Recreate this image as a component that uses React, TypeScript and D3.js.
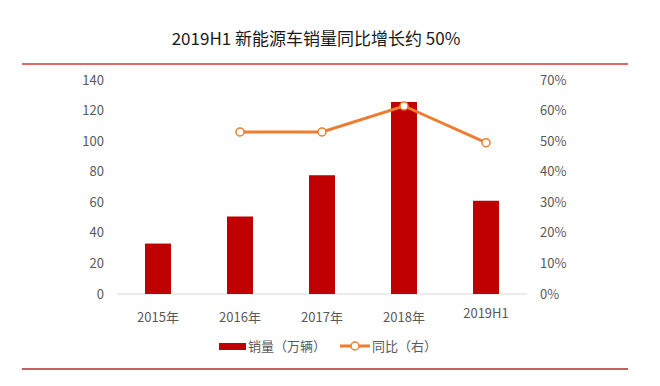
import React, { useRef, useEffect } from 'react';
import * as d3 from 'd3';

const categories = ['2015年', '2016年', '2017年', '2018年', '2019H1'];
const sales = [33, 50.7, 77.7, 125.6, 61];
const yoy: (number | null)[] = [null, 0.53, 0.53, 0.615, 0.495];
const leftTicks = [0, 20, 40, 60, 80, 100, 120, 140];
const rightTicks = [0, 0.1, 0.2, 0.3, 0.4, 0.5, 0.6, 0.7];

const FONT = '"Noto Sans CJK SC", "Noto Sans", sans-serif';

const App: React.FC = () => {
  const svgRef = useRef<SVGSVGElement | null>(null);

  useEffect(() => {
    const width = 660;
    const height = 386;
    const margin = { top: 80, right: 133, bottom: 92, left: 117 };

    d3.select(svgRef.current).selectAll('*').remove();
    const svg = d3.select(svgRef.current).attr('width', width).attr('height', height);

    svg.append('rect').attr('width', width).attr('height', height).attr('fill', '#fff');

    // title and rules
    svg.append('text')
      .attr('x', 316).attr('y', 45)
      .attr('text-anchor', 'middle')
      .attr('font-family', FONT).attr('font-size', 17).attr('fill', '#1a1a1a')
      .text('2019H1 新能源车销量同比增长约 50%');

    svg.append('line').attr('x1', 22).attr('x2', 628).attr('y1', 64).attr('y2', 64)
      .attr('stroke', '#d0393b').attr('stroke-width', 1.5);
    svg.append('line').attr('x1', 22).attr('x2', 628).attr('y1', 369).attr('y2', 369)
      .attr('stroke', '#b02a2e').attr('stroke-width', 1.5);

    const innerW = width - margin.left - margin.right;
    const x = d3.scaleBand().domain(categories).range([margin.left, margin.left + innerW]);
    const yL = d3.scaleLinear().domain([0, 140]).range([294, 80]);
    const yR = d3.scaleLinear().domain([0, 0.7]).range([294, 80]);

    // baseline
    svg.append('line').attr('x1', margin.left).attr('x2', margin.left + innerW)
      .attr('y1', yL(0)).attr('y2', yL(0)).attr('stroke', '#d9d9d9');

    // left axis labels
    svg.append('g').selectAll('text').data(leftTicks).enter().append('text')
      .attr('x', 104).attr('y', d => yL(d)).attr('dy', '0.35em')
      .attr('text-anchor', 'end').attr('font-family', FONT).attr('font-size', 13)
      .attr('fill', '#595959').text(d => String(d));

    // right axis labels
    svg.append('g').selectAll('text').data(rightTicks).enter().append('text')
      .attr('x', 540).attr('y', d => yR(d)).attr('dy', '0.35em')
      .attr('text-anchor', 'start').attr('font-family', FONT).attr('font-size', 13)
      .attr('fill', '#595959').text(d => d3.format('.0%')(d));

    // x labels
    svg.append('g').selectAll('text').data(categories).enter().append('text')
      .attr('x', d => x(d)! + x.bandwidth() / 2)
      .attr('y', (d, i) => (i === 4 ? 313 : 317)).attr('dy', '0.35em')
      .attr('text-anchor', 'middle').attr('font-family', FONT).attr('font-size', 13)
      .attr('fill', '#595959').text(d => d);

    // bars
    const barW = 26;
    svg.append('g').selectAll('rect').data(sales).enter().append('rect')
      .attr('x', (d, i) => x(categories[i])! + x.bandwidth() / 2 - barW / 2)
      .attr('y', d => yL(d))
      .attr('width', barW)
      .attr('height', d => yL(0) - yL(d))
      .attr('fill', '#c00000');

    // line
    const pts = yoy
      .map((v, i) => ({ v, c: categories[i] }))
      .filter(p => p.v !== null) as { v: number; c: string }[];
    const line = d3.line<{ v: number; c: string }>()
      .x(p => x(p.c)! + x.bandwidth() / 2)
      .y(p => yR(p.v));
    svg.append('path').datum(pts).attr('d', line)
      .attr('fill', 'none').attr('stroke', '#ed7d31').attr('stroke-width', 3);
    svg.append('g').selectAll('circle').data(pts).enter().append('circle')
      .attr('cx', p => x(p.c)! + x.bandwidth() / 2)
      .attr('cy', p => yR(p.v))
      .attr('r', 4).attr('fill', '#fff').attr('stroke', '#ed7d31').attr('stroke-width', 1.5);

    // legend
    const lg = svg.append('g');
    lg.append('rect').attr('x', 219).attr('y', 343).attr('width', 27).attr('height', 7).attr('fill', '#c00000');
    lg.append('text').attr('x', 248).attr('y', 346).attr('dy', '0.35em')
      .attr('font-family', FONT).attr('font-size', 13).attr('fill', '#595959').text('销量（万辆）');
    lg.append('line').attr('x1', 340).attr('x2', 370).attr('y1', 346).attr('y2', 346)
      .attr('stroke', '#ed7d31').attr('stroke-width', 3);
    lg.append('circle').attr('cx', 355).attr('cy', 346).attr('r', 4)
      .attr('fill', '#fff').attr('stroke', '#ed7d31').attr('stroke-width', 1.5);
    lg.append('text').attr('x', 372).attr('y', 346).attr('dy', '0.35em')
      .attr('font-family', FONT).attr('font-size', 13).attr('fill', '#595959').text('同比（右）');
  }, []);

  return <svg ref={svgRef} style={{ position: 'absolute', left: 0, top: 0 }}></svg>;
};

export default App;
